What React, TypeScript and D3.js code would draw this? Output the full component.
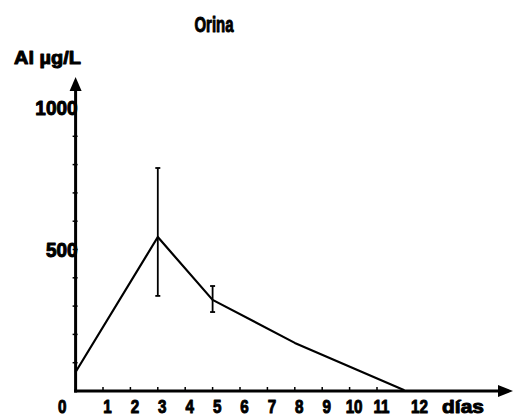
import * as React from "react";
import * as d3 from "d3";

// urine aluminium (µg/L) by day
const days = [0, 3, 5, 8, 12];
const values = [67, 544, 322, 170, 3];
const errDays = [3, 5];
const errLow = [336, 279];
const errHigh = [788, 371];

const xTicks = [1, 2, 3, 4, 5, 6, 7, 8, 9, 10, 11];
const xLabels = ["0", "1", "2", "3", "4", "5", "6", "7", "8", "9", "10", "11", "12"];
const yTicks = [100, 200, 300, 400, 500, 600, 700, 800, 900];
const yLabels = [500, 1000];

const W = 513;
const H = 416;
const font = "'Liberation Sans', Arial, sans-serif";

// the scanned labels are a heavy condensed face: squeeze in x + thicken
function txt(g, x, y, s, size, sx, anchor = "start") {
  g.append("g")
    .attr("transform", `translate(${x},${y}) scale(${sx},1)`)
    .append("text")
    .attr("text-anchor", anchor)
    .attr("font-family", font)
    .attr("font-weight", "bold")
    .attr("font-size", size)
    .attr("stroke", "#000")
    .attr("stroke-width", 1)
    .attr("stroke-linejoin", "round")
    .text(s);
}

function drawChart(svgRef) {
  const svg = d3.select(svgRef.current);
  svg.selectAll("*").remove();

  const x = d3.scaleLinear().domain([0, 12]).range([75.6, 404.4]);
  const y = d3.scaleLinear().domain([0, 1000]).range([391, 108]);

  const g = svg.append("g");

  // title + y label
  txt(g, 214, 32, "Orina", 22, 0.68, "middle");
  txt(g, 14, 64, "Al µg/L", 19, 1.05);

  // y axis
  g.append("line")
    .attr("x1", x(0))
    .attr("x2", x(0))
    .attr("y1", 88)
    .attr("y2", y(0) + 1.5)
    .attr("stroke", "#000")
    .attr("stroke-width", 3);
  g.append("path")
    .attr("d", `M${x(0)},77 L${x(0) - 6},91 L${x(0) + 6},91 Z`)
    .attr("fill", "#000");

  g.selectAll(".ytick")
    .data(yTicks)
    .enter()
    .append("line")
    .attr("x1", x(0) - 3)
    .attr("x2", x(0) + 2)
    .attr("y1", (d) => y(d))
    .attr("y2", (d) => y(d))
    .attr("stroke", "#000")
    .attr("stroke-width", 1.5);

  yLabels.forEach((d) => txt(g, x(0) + 2, y(d) + 7, String(d), 20, 0.95, "end"));

  // x axis
  g.append("line")
    .attr("x1", x(0) - 1.5)
    .attr("x2", 500)
    .attr("y1", y(0))
    .attr("y2", y(0))
    .attr("stroke", "#000")
    .attr("stroke-width", 3);
  g.append("path")
    .attr("d", `M513,${y(0)} L498,${y(0) - 6} L498,${y(0) + 6} Z`)
    .attr("fill", "#000");

  g.selectAll(".xtick")
    .data(xTicks)
    .enter()
    .append("line")
    .attr("x1", (d) => x(d))
    .attr("x2", (d) => x(d))
    .attr("y1", y(0) - 4)
    .attr("y2", y(0))
    .attr("stroke", "#000")
    .attr("stroke-width", 1.5);

  xLabels.forEach((d, i) => {
    const px = i === 0 ? x(i) - 13.5 : i === 12 ? x(i) + 15 : x(i) + 4.5;
    txt(g, px, 413, d, 19, 0.8, "middle");
  });

  txt(g, 463, 413, "días", 19, 1.1, "middle");

  // error bars
  errDays.forEach((d, i) => {
    const eg = g.append("g").attr("stroke", "#000").attr("stroke-width", 1.8);
    eg.append("line")
      .attr("x1", x(d))
      .attr("x2", x(d))
      .attr("y1", y(errLow[i]))
      .attr("y2", y(errHigh[i]));
    [errLow[i], errHigh[i]].forEach((v) => {
      eg.append("line")
        .attr("x1", x(d) - 2.5)
        .attr("x2", x(d) + 2.5)
        .attr("y1", y(v))
        .attr("y2", y(v));
    });
  });

  // series line
  const line = d3
    .line()
    .x((d) => x(d[0]))
    .y((d) => y(d[1]));

  g.append("path")
    .attr("d", line(days.map((d, i) => [d, values[i]])))
    .attr("fill", "none")
    .attr("stroke", "#000")
    .attr("stroke-width", 2.2)
    .attr("stroke-linejoin", "round");
}

export default function App() {
  const svg = React.useRef(null);
  React.useEffect(() => {
    drawChart(svg);
  }, []);

  return (
    <svg
      ref={svg}
      width={W}
      height={H}
      style={{ position: "absolute", left: 0, top: 0, background: "#fff" }}
    />
  );
}
